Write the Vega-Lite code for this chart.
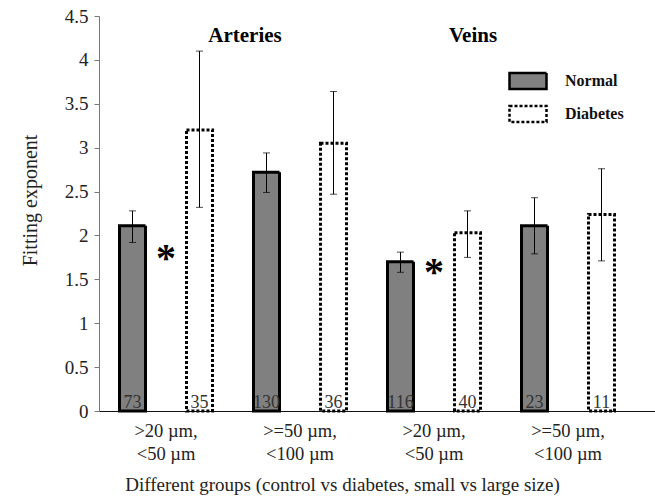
{
  "$schema": "https://vega.github.io/schema/vega-lite/v6.json",
  "width": 556,
  "height": 395,
  "autosize": "none",
  "padding": {"left": 99, "top": 16, "right": 0, "bottom": 91},
  "background": "white",
  "config": {
    "view": {"stroke": null},
    "font": "Liberation Serif",
    "axis": {"labelFont": "Liberation Serif", "titleFont": "Liberation Serif", "titleFontWeight": "normal", "labelColor": "#222", "titleColor": "#222", "grid": false}
  },
  "datasets": {
    "bars": [
      {"group": "A1", "series": "Normal", "value": 2.11, "lo": 1.92, "hi": 2.28, "n": "73"},
      {"group": "A1", "series": "Diabetes", "value": 3.2, "lo": 2.32, "hi": 4.1, "n": "35"},
      {"group": "A2", "series": "Normal", "value": 2.72, "lo": 2.49, "hi": 2.94, "n": "130"},
      {"group": "A2", "series": "Diabetes", "value": 3.05, "lo": 2.47, "hi": 3.64, "n": "36"},
      {"group": "V1", "series": "Normal", "value": 1.7, "lo": 1.58, "hi": 1.81, "n": "116"},
      {"group": "V1", "series": "Diabetes", "value": 2.03, "lo": 1.75, "hi": 2.28, "n": "40"},
      {"group": "V2", "series": "Normal", "value": 2.11, "lo": 1.79, "hi": 2.43, "n": "23"},
      {"group": "V2", "series": "Diabetes", "value": 2.24, "lo": 1.71, "hi": 2.76, "n": "11"}
    ],
    "stars": [
      {"group": "A1", "y": 1.6, "t": "*"},
      {"group": "V1", "y": 1.43, "t": "*"}
    ],
    "arteries": [{"group": "A1", "y": 4.27, "t": "Arteries"}],
    "veins": [{"group": "V1", "y": 4.27, "t": "Veins"}]
  },
  "encoding": {
    "x": {
      "field": "group", "type": "nominal",
      "scale": {"domain": ["A1", "A2", "V1", "V2"], "paddingInner": 0, "paddingOuter": 0.0746, "align": 0},
      "axis": {
        "title": "Different groups (control vs diabetes, small vs large size)",
        "titleFontSize": 19, "titlePadding": 13, "titleX": 243,
        "labelAngle": 0, "labelFontSize": 18.5, "labelPadding": 10, "labelLineHeight": 23,
        "labelExpr": "(datum.value == 'A1' || datum.value == 'V1') ? ['>20 µm,', '<50 µm'] : ['>=50 µm,', '<100 µm']",
        "ticks": false, "domainColor": "#111", "domainWidth": 1.2
      }
    },
    "y": {
      "type": "quantitative",
      "scale": {"domain": [0, 4.5], "nice": false, "zero": true},
      "axis": {
        "title": "Fitting exponent", "titleFontSize": 20, "titlePadding": 24, "titleY": 184,
        "values": [0, 0.5, 1, 1.5, 2, 2.5, 3, 3.5, 4, 4.5], "format": "~g",
        "labelFontSize": 19, "labelPadding": 6, "tickSize": 5,
        "domainColor": "#777", "tickColor": "#777"
      }
    }
  },
  "layer": [
    {
      "data": {"name": "bars"},
      "mark": {"type": "bar", "size": 26, "stroke": "black", "strokeWidth": 3},
      "encoding": {
        "xOffset": {"field": "series", "type": "nominal", "scale": {"domain": ["Normal", "Diabetes"]}},
        "y": {"field": "value", "type": "quantitative"},
        "fill": {
          "field": "series", "type": "nominal",
          "scale": {"domain": ["Normal", "Diabetes"], "range": ["#808080", "#ffffff"]},
          "legend": {
            "title": null, "orient": "none", "legendX": 409, "legendY": 45,
            "symbolType": "M-1,-0.43H1V0.43H-1Z", "symbolSize": 1369,
            "symbolStrokeColor": "black", "symbolStrokeWidth": 2.5,
            "labelFont": "Liberation Serif", "labelFontWeight": "bold", "labelFontSize": 16,
            "labelColor": "#111", "labelOffset": 17, "rowPadding": -5, "padding": 0
          }
        },
        "strokeDash": {
          "field": "series", "type": "nominal",
          "scale": {"domain": ["Normal", "Diabetes"], "range": [[1, 0], [3, 2]]}
        }
      }
    },
    {
      "data": {"name": "bars"},
      "mark": {"type": "rule", "color": "black", "strokeWidth": 1},
      "encoding": {
        "xOffset": {"field": "series", "type": "nominal"},
        "y": {"field": "lo", "type": "quantitative"},
        "y2": {"field": "hi"}
      }
    },
    {
      "data": {"name": "bars"},
      "mark": {"type": "tick", "color": "black", "size": 7, "thickness": 1},
      "encoding": {
        "xOffset": {"field": "series", "type": "nominal"},
        "y": {"field": "lo", "type": "quantitative"}
      }
    },
    {
      "data": {"name": "bars"},
      "mark": {"type": "tick", "color": "black", "size": 7, "thickness": 1},
      "encoding": {
        "xOffset": {"field": "series", "type": "nominal"},
        "y": {"field": "hi", "type": "quantitative"}
      }
    },
    {
      "data": {"name": "bars"},
      "mark": {"type": "text", "font": "Liberation Serif", "fontSize": 18, "color": "#333", "baseline": "alphabetic", "dy": -3},
      "encoding": {
        "xOffset": {"field": "series", "type": "nominal"},
        "y": {"datum": 0, "type": "quantitative"},
        "text": {"field": "n"}
      }
    },
    {
      "data": {"name": "stars"},
      "mark": {"type": "text", "font": "Liberation Serif", "fontSize": 40, "fontWeight": "bold", "color": "black", "baseline": "alphabetic"},
      "encoding": {
        "y": {"field": "y", "type": "quantitative"},
        "text": {"field": "t"}
      }
    },
    {
      "data": {"name": "arteries"},
      "mark": {"type": "text", "font": "Liberation Serif", "fontSize": 21, "fontWeight": "bold", "color": "black", "baseline": "middle", "dx": 79},
      "encoding": {
        "y": {"field": "y", "type": "quantitative"},
        "text": {"field": "t"}
      }
    },
    {
      "data": {"name": "veins"},
      "mark": {"type": "text", "font": "Liberation Serif", "fontSize": 21, "fontWeight": "bold", "color": "black", "baseline": "middle", "dx": 39},
      "encoding": {
        "y": {"field": "y", "type": "quantitative"},
        "text": {"field": "t"}
      }
    }
  ]
}
